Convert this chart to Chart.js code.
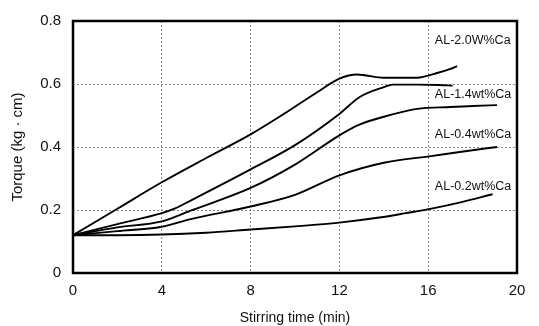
<!DOCTYPE html>
<html>
<head>
<meta charset="utf-8">
<script src="https://cdn.jsdelivr.net/npm/chart.js@4/dist/chart.umd.min.js"></script>
<style>
  html, body { margin: 0; padding: 0; background: #fff; }
  #wrap { width: 539px; height: 326px; }
</style>
</head>
<body>
<div id="wrap"><canvas id="c" width="539" height="326"></canvas></div>
<script>
// ---- data ----
const xTicks = [0, 4, 8, 12, 16, 20];
const yTicks = [0, 0.2, 0.4, 0.6, 0.8];
const xTitle = 'Stirring time (min)';
const yTitle = 'Torque (kg \u00B7 cm)';

const time20 = [0, 2, 4, 6, 8, 9.5, 11, 12, 12.8, 14, 15.5, 16.4, 17, 17.3];
const torque20 = [0.12, 0.204, 0.288, 0.365, 0.44, 0.505, 0.574, 0.617, 0.63, 0.62, 0.62, 0.635, 0.648, 0.657];

const time14 = [0, 2, 4, 4.6, 5.3, 8, 10, 12, 12.9, 14, 14.4, 15.5, 16.5, 17.1];
const torque14 = [0.12, 0.155, 0.19, 0.205, 0.23, 0.329, 0.406, 0.505, 0.558, 0.59, 0.598, 0.598, 0.597, 0.595];

const time10 = [0, 2, 4, 5.3, 8, 10, 12, 12.9, 14, 15.5, 17, 18, 19.1];
const torque10 = [0.12, 0.145, 0.164, 0.198, 0.27, 0.344, 0.437, 0.471, 0.496, 0.521, 0.527, 0.53, 0.533];

const time04 = [0, 2, 4, 5.3, 8, 10, 12, 14, 16.2, 17.5, 19.1];
const torque04 = [0.12, 0.133, 0.147, 0.171, 0.211, 0.248, 0.31, 0.35, 0.372, 0.385, 0.4];

const time02 = [0, 2, 4, 6, 8, 10, 12, 13.8, 15, 16.2, 17.5, 18.9];
const torque02 = [0.12, 0.12, 0.122, 0.128, 0.138, 0.148, 0.16, 0.176, 0.19, 0.205, 0.225, 0.25];

const curveLabels = ['AL-2.0W%Ca', 'AL-1.4wt%Ca', 'AL-0.4wt%Ca', 'AL-0.2wt%Ca'];
const labelX = [16.3, 16.3, 16.3, 16.3];
const labelY = [0.738, 0.567, 0.44, 0.273];

function pts(xs, ys) { return xs.map((x, i) => ({ x: x, y: ys[i] })); }

const series = [[time20, torque20], [time14, torque14], [time10, torque10], [time04, torque04], [time02, torque02]];

const FONT = "'Liberation Sans', Arial, sans-serif";

const boxPlugin = {
  id: 'box',
  afterDraw(chart) {
    const { ctx, chartArea: a } = chart;
    ctx.save();
    ctx.strokeStyle = '#000';
    ctx.lineWidth = 2.5;
    ctx.strokeRect(a.left, a.top, a.right - a.left, a.bottom - a.top);
    ctx.restore();
  }
};

const labelPlugin = {
  id: 'curveLabels',
  afterDatasetsDraw(chart) {
    const { ctx, scales } = chart;
    ctx.save();
    ctx.fillStyle = '#111';
    ctx.font = '12.5px ' + FONT;
    ctx.textAlign = 'left';
    ctx.textBaseline = 'middle';
    curveLabels.forEach((t, i) => {
      ctx.fillText(t, scales.x.getPixelForValue(labelX[i]), scales.y.getPixelForValue(labelY[i]));
    });
    ctx.restore();
  }
};

new Chart(document.getElementById('c'), {
  type: 'line',
  data: {
    datasets: series.map(s => ({
      data: pts(s[0], s[1]),
      borderColor: '#000',
      borderWidth: 1.9,
      pointRadius: 0,
      fill: false,
      cubicInterpolationMode: 'monotone'
    }))
  },
  options: {
    responsive: false,
    animation: false,
    devicePixelRatio: 1,
    layout: { padding: { top: 15, right: 22, left: 0, bottom: 0 } },
    plugins: { legend: { display: false }, tooltip: { enabled: false } },
    scales: {
      x: {
        type: 'linear',
        min: 0, max: 20,
        afterBuildTicks(s) { s.ticks = xTicks.map(v => ({ value: v })); },
        afterFit(s) { s.height = 53; },
        ticks: { color: '#111', font: { family: FONT, size: 15 }, padding: 9, maxRotation: 0 },
        grid: { color: '#888', lineWidth: 1, drawTicks: false },
        border: { display: false, dash: [2, 2] },
        title: { display: true, text: xTitle, color: '#111', font: { family: FONT, size: 14, lineHeight: 1.0 }, padding: { top: 0, bottom: 1 } }
      },
      y: {
        type: 'linear',
        min: 0, max: 0.8,
        afterBuildTicks(s) { s.ticks = yTicks.map(v => ({ value: v })); },
        afterFit(s) { s.width = 73; },
        ticks: { color: '#111', font: { family: FONT, size: 15 }, padding: 12,
                 callback: v => (v === 0 ? '0' : v.toFixed(1)) },
        grid: { color: '#888', lineWidth: 1, drawTicks: false },
        border: { display: false, dash: [2, 2] },
        title: { display: true, text: yTitle, color: '#111', font: { family: FONT, size: 15, lineHeight: 1.0 }, padding: { top: 10, bottom: 0 } }
      }
    }
  },
  plugins: [boxPlugin, labelPlugin]
});
</script>
</body>
</html>
